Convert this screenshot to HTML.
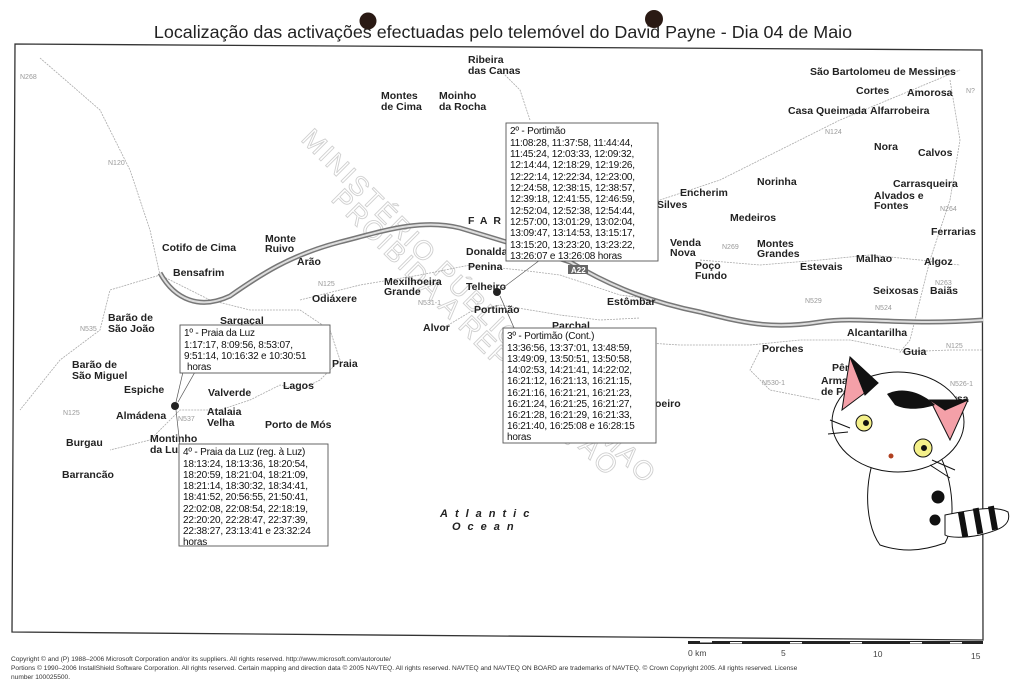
<!DOCTYPE html>
<html><head><meta charset="utf-8"><style>
html,body{margin:0;padding:0;background:#fff;}
body{width:1024px;height:691px;position:relative;overflow:hidden;font-family:"Liberation Sans",sans-serif;}
svg{position:absolute;left:0;top:0;}
.l{font-weight:bold;font-size:10.5px;fill:#222;}
.r{font-size:7px;fill:#999;}
.t{font-size:10px;fill:#111;letter-spacing:-0.2px;}
.c{font-size:6.6px;fill:#333;}
</style></head><body>
<svg width="1024" height="691" viewBox="0 0 1024 691">
<g fill="none" stroke="#d0d0d0" stroke-width="0.9" font-size="27" font-family="Liberation Sans" letter-spacing="2">
<text transform="translate(300,140) rotate(45)">MINISTÉRIO PÚBLICO PORTIMAO</text>
<text transform="translate(330,200) rotate(45)">PROIBIDA A REPRODUÇÃO</text>
</g>
<path d="M15,44 L982,50 L983,640 L12,632 Z" fill="none" stroke="#333" stroke-width="1.3"/>
<text x="503" y="38" text-anchor="middle" font-size="17.9" fill="#222">Localização das activações efectuadas pelo telemóvel do David Payne - Dia 04 de Maio</text>
<circle cx="368" cy="21" r="8.5" fill="#2a1a14"/>
<circle cx="654" cy="19" r="9" fill="#2a1a14"/>
<g fill="none" stroke="#aaa" stroke-width="0.8" stroke-dasharray="2,1">
<path d="M40,58 L100,110 L130,170 L150,230 L160,275 L110,290 L100,330 L60,360 L20,410"/>
<path d="M160,275 L210,300 L250,310 L300,310 L330,330 L340,360 L320,380 L300,390 L280,385 L250,400 L220,410 L180,410 L150,440 L110,450"/>
<path d="M300,300 L360,285 L420,275 L470,265 L520,270 L560,275 L620,295 L660,300"/>
<path d="M440,330 L470,312 L500,305 L560,315 L600,320 L640,318"/>
<path d="M560,255 L600,230 L660,200 L720,180 L780,150 L840,120 L900,95 L960,70"/>
<path d="M700,260 L760,265 L820,260 L870,255 L920,260 L960,265"/>
<path d="M950,80 L960,140 L950,200 L930,260 L920,300 L910,340 L900,352 L950,350 L983,350"/>
<path d="M600,340 L680,345 L750,345 L800,340 L850,340 L900,350"/>
<path d="M760,350 L750,370 L770,390 L820,400"/>
<path d="M530,120 L520,90 L500,70"/>
</g>
<path d="M160,273 C175,300 200,310 230,296 C260,275 290,255 340,242 C380,232 420,218 460,228 C500,240 540,252 570,262 C600,280 640,300 700,312 C740,322 770,330 820,322 C860,316 900,326 983,320" fill="none" stroke="#777" stroke-width="5"/>
<path d="M160,273 C175,300 200,310 230,296 C260,275 290,255 340,242 C380,232 420,218 460,228 C500,240 540,252 570,262 C600,280 640,300 700,312 C740,322 770,330 820,322 C860,316 900,326 983,320" fill="none" stroke="#ddd" stroke-width="2"/>
<rect x="568" y="265" width="20" height="9" fill="#666"/><text x="571" y="273" font-size="8" fill="#fff" font-weight="bold">A22</text>
<g class="r">
<text x="20" y="79">N268</text><text x="108" y="165">N120</text><text x="318" y="286">N125</text><text x="80" y="331">N535</text>
<text x="63" y="415">N125</text><text x="178" y="421">N537</text><text x="418" y="305">N531-1</text><text x="825" y="134">N124</text>
<text x="722" y="249">N269</text><text x="940" y="211">N264</text><text x="805" y="303">N529</text><text x="875" y="310">N524</text>
<text x="935" y="285">N263</text><text x="584" y="346">N125</text><text x="762" y="385">N530-1</text><text x="946" y="348">N125</text><text x="950" y="386">N526-1</text><text x="966" y="93">N?</text>
</g>
<g class="l">
<text x="468" y="63">Ribeira</text><text x="468" y="74">das Canas</text>
<text x="381" y="99">Montes</text><text x="381" y="110">de Cima</text>
<text x="439" y="99">Moinho</text><text x="439" y="110">da Rocha</text>
<text x="810" y="75">São Bartolomeu de Messines</text>
<text x="856" y="94">Cortes</text><text x="907" y="96">Amorosa</text>
<text x="788" y="114">Casa Queimada</text><text x="870" y="114">Alfarrobeira</text>
<text x="874" y="150">Nora</text><text x="918" y="156">Calvos</text>
<text x="757" y="185">Norinha</text><text x="680" y="196">Encherim</text><text x="657" y="208">Silves</text>
<text x="893" y="187">Carrasqueira</text><text x="874" y="199">Alvados e</text><text x="874" y="209">Fontes</text>
<text x="730" y="221">Medeiros</text><text x="931" y="235">Ferrarias</text>
<text x="670" y="246">Venda</text><text x="670" y="256">Nova</text>
<text x="757" y="247">Montes</text><text x="757" y="257">Grandes</text>
<text x="695" y="269">Poço</text><text x="695" y="279">Fundo</text>
<text x="800" y="270">Estevais</text><text x="856" y="262">Malhao</text><text x="924" y="265">Algoz</text>
<text x="873" y="294">Seixosas</text><text x="930" y="294">Baiãs</text>
<text x="607" y="305">Estômbar</text><text x="552" y="329">Parchal</text>
<text x="847" y="336">Alcantarilha</text><text x="762" y="352">Porches</text><text x="903" y="355">Guia</text>
<text x="832" y="371">Pêra</text><text x="821" y="384">Armaç</text><text x="821" y="395">de Pê</text>
<text x="930" y="402">da Ursa</text>
<text x="468" y="224" letter-spacing="6">FAR</text>
<text x="162" y="251">Cotifo de Cima</text><text x="265" y="242">Monte</text><text x="265" y="252">Ruivo</text><text x="297" y="265">Arão</text>
<text x="173" y="276">Bensafrim</text>
<text x="466" y="255">Donalda</text><text x="468" y="270">Penina</text><text x="384" y="285">Mexilhoeira</text><text x="384" y="295">Grande</text>
<text x="466" y="290">Telheiro</text><text x="474" y="313">Portimão</text><text x="423" y="331">Alvor</text><text x="312" y="302">Odiáxere</text>
<text x="108" y="321">Barão de</text><text x="108" y="332">São João</text><text x="220" y="324">Sargaçal</text>
<text x="332" y="367">Praia</text><text x="72" y="368">Barão de</text><text x="72" y="379">São Miguel</text>
<text x="124" y="393">Espiche</text><text x="208" y="396">Valverde</text><text x="283" y="389">Lagos</text>
<text x="116" y="419">Almádena</text><text x="207" y="415">Atalaia</text><text x="207" y="426">Velha</text>
<text x="265" y="428">Porto de Mós</text><text x="66" y="446">Burgau</text>
<text x="150" y="442">Montinho</text><text x="150" y="453">da Luz</text><text x="62" y="478">Barrancão</text>
<text x="655" y="407">oeiro</text>
</g>
<g font-weight="bold" font-style="italic" font-size="11" fill="#222" letter-spacing="7">
<text x="440" y="517">Atlantic</text><text x="452" y="530">Ocean</text>
</g>
<g fill="#222"><circle cx="175" cy="406" r="4"/><circle cx="497" cy="292" r="4"/></g>
<g stroke="#555" stroke-width="0.7" fill="none">
<path d="M183,372 L176,402 M195,372 L178,402"/><path d="M180,446 L176,410"/>
<path d="M540,260 L500,290"/><path d="M515,330 L500,296"/>
</g>
<g fill="#fff" stroke="#555" stroke-width="0.9">
<rect x="506" y="123" width="152" height="138"/>
<rect x="180" y="325" width="150" height="48"/>
<rect x="179" y="444" width="149" height="102"/>
<rect x="503" y="328" width="153" height="115"/>
</g>
<g class="t">
<text x="510" y="134">2º - Portimão</text>
<text x="510" y="146">11:08:28, 11:37:58, 11:44:44,</text>
<text x="510" y="157">11:45:24, 12:03:33, 12:09:32,</text>
<text x="510" y="168">12:14:44, 12:18:29, 12:19:26,</text>
<text x="510" y="180">12:22:14, 12:22:34, 12:23:00,</text>
<text x="510" y="191">12:24:58, 12:38:15, 12:38:57,</text>
<text x="510" y="202">12:39:18, 12:41:55, 12:46:59,</text>
<text x="510" y="214">12:52:04, 12:52:38, 12:54:44,</text>
<text x="510" y="225">12:57:00, 13:01:29, 13:02:04,</text>
<text x="510" y="236">13:09:47, 13:14:53, 13:15:17,</text>
<text x="510" y="248">13:15:20, 13:23:20, 13:23:22,</text>
<text x="510" y="259">13:26:07 e 13:26:08 horas</text>
<text x="184" y="336">1º - Praia da Luz</text>
<text x="184" y="348">1:17:17, 8:09:56, 8:53:07,</text>
<text x="184" y="359">9:51:14, 10:16:32 e 10:30:51</text>
<text x="187" y="370">horas</text>
<text x="183" y="455">4º - Praia da Luz (reg. à Luz)</text>
<text x="183" y="467">18:13:24, 18:13:36, 18:20:54,</text>
<text x="183" y="478">18:20:59, 18:21:04, 18:21:09,</text>
<text x="183" y="489">18:21:14, 18:30:32, 18:34:41,</text>
<text x="183" y="500">18:41:52, 20:56:55, 21:50:41,</text>
<text x="183" y="512">22:02:08, 22:08:54, 22:18:19,</text>
<text x="183" y="523">22:20:20, 22:28:47, 22:37:39,</text>
<text x="183" y="534">22:38:27, 23:13:41 e 23:32:24</text>
<text x="183" y="545">horas</text>
<text x="507" y="339">3º - Portimão (Cont.)</text>
<text x="507" y="351">13:36:56, 13:37:01, 13:48:59,</text>
<text x="507" y="362">13:49:09, 13:50:51, 13:50:58,</text>
<text x="507" y="373">14:02:53, 14:21:41, 14:22:02,</text>
<text x="507" y="384">16:21:12, 16:21:13, 16:21:15,</text>
<text x="507" y="396">16:21:16, 16:21:21, 16:21:23,</text>
<text x="507" y="407">16:21:24, 16:21:25, 16:21:27,</text>
<text x="507" y="418">16:21:28, 16:21:29, 16:21:33,</text>
<text x="507" y="429">16:21:40, 16:25:08 e 16:28:15</text>
<text x="507" y="440">horas</text>
</g>
<g stroke="#111" stroke-width="1">
<path d="M880,445 C865,470 862,520 880,545 C900,552 920,552 945,543 C958,520 952,470 935,448 Z" fill="#fff"/>
<path d="M945,515 C970,510 995,505 1008,512 C1012,525 1000,530 980,535 C965,538 950,538 945,535 Z" fill="#fff"/>
<g fill="#111" stroke="none"><rect x="960" y="512" width="6" height="25" transform="rotate(-10 963 524)"/><rect x="975" y="508" width="6" height="26" transform="rotate(-10 978 521)"/><rect x="990" y="506" width="6" height="24" transform="rotate(-10 993 518)"/></g>
<ellipse cx="898" cy="422" rx="66" ry="50" fill="#fff"/>
<path d="M842,410 L850,357 L878,383 Z" fill="#f4a0a8"/>
<path d="M850,357 L878,383 L865,395 Z" fill="#111"/>
<path d="M930,400 L968,400 L950,440 Z" fill="#f4a0a8"/>
<path d="M930,400 L968,400 L945,410 Z" fill="#111"/>
<path d="M887,394 C905,385 925,395 935,405 C920,410 905,410 895,405 Z" fill="#111" stroke="none"/>
<circle cx="864" cy="423" r="8" fill="#f4f08a"/><circle cx="866" cy="423" r="2.5" fill="#111"/>
<circle cx="923" cy="448" r="9" fill="#f4f08a"/><circle cx="924" cy="448" r="2.5" fill="#111"/>
<circle cx="938" cy="497" r="6" fill="#111"/><circle cx="935" cy="520" r="5" fill="#111"/>
<circle cx="891" cy="456" r="2.5" fill="#b04020" stroke="none"/>
<path d="M830,420 L850,428 M828,434 L848,432 M932,460 L955,470 M930,465 L950,478" fill="none"/>
</g>
<rect x="688" y="641" width="295" height="3" fill="#222"/>
<g fill="#fff"><rect x="700" y="641" width="12" height="1.5"/><rect x="730" y="642" width="12" height="1.5"/><rect x="790" y="642" width="12" height="1.5"/><rect x="850" y="642" width="12" height="1.5"/><rect x="910" y="642" width="12" height="1.5"/><rect x="950" y="642" width="12" height="1.5"/></g>
<g font-size="8.5" fill="#444"><text x="688" y="656">0 km</text><text x="781" y="656">5</text><text x="873" y="657">10</text><text x="971" y="659">15</text></g>
<g class="c">
<text x="11" y="661">Copyright © and (P) 1988–2006 Microsoft Corporation and/or its suppliers. All rights reserved. http://www.microsoft.com/autoroute/</text>
<text x="11" y="670">Portions © 1990–2006 InstallShield Software Corporation. All rights reserved. Certain mapping and direction data © 2005 NAVTEQ. All rights reserved. NAVTEQ and NAVTEQ ON BOARD are trademarks of NAVTEQ. © Crown Copyright 2005. All rights reserved. License</text>
<text x="11" y="679">number 100025500.</text>
</g>
</svg>
</body></html>
